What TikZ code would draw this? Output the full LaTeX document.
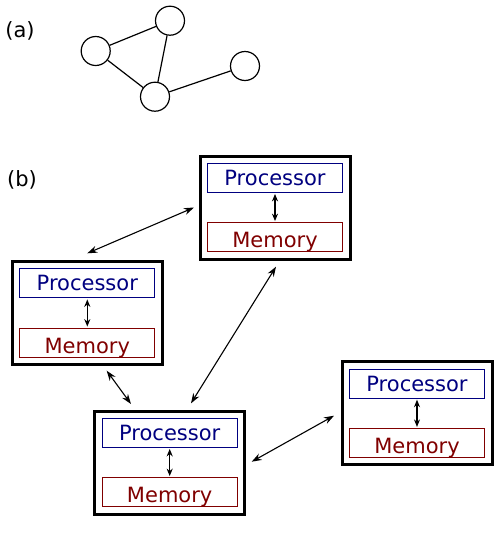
\documentclass[tikz,border=0pt]{standalone}
\usepackage{fontspec}
\setmainfont{DejaVu Sans}
\usetikzlibrary{arrows.meta}
\definecolor{procblue}{RGB}{0,0,128}
\definecolor{memred}{RGB}{128,0,0}
\begin{document}
\begin{tikzpicture}[x=1pt,y=-1pt,
  font=\fontsize{21}{25}\selectfont,
  vertex/.style={circle,draw,line width=1.2pt,minimum size=29pt,inner sep=0pt},
  edge/.style={line width=1.2pt},
  outerbox/.style={draw,line width=3pt,minimum width=150pt,minimum height=103pt,inner sep=0pt},
  procbox/.style={draw=procblue,text=procblue,line width=1.2pt,minimum width=135pt,minimum height=29pt,inner sep=0pt},
  membox/.style={draw=memred,text=memred,line width=1.2pt,minimum width=135pt,minimum height=29pt,inner sep=0pt,text height=15.3pt,text depth=0pt},
  link/.style={line width=1.1pt,{Stealth[length=10pt,width=7pt]}-{Stealth[length=10pt,width=7pt]}},
  innerlink/.style={line width=1.1pt,{Stealth[length=7.5pt,width=6pt]}-{Stealth[length=7.5pt,width=6pt]}},
  lbl/.style={inner sep=0pt}
]
\useasboundingbox (0,0) rectangle (498,560);
\fill[white] (0,0) rectangle (498,560);

% (a)
\node[lbl] (la) at (20,31) {(a)};
\node[vertex] (v1) at (95.7,51) {};
\node[vertex] (v2) at (170,20.7) {};
\node[vertex] (v3) at (155,96.7) {};
\node[vertex] (v4) at (245,66) {};
\draw[edge] (v1) -- (v2);
\draw[edge] (v1) -- (v3);
\draw[edge] (v2) -- (v3);
\draw[edge] (v3) -- (v4);

% (b)
\node[lbl] (lb) at (22,180) {(b)};

\foreach \n/\x/\y in {A/275/207.5, B/87.3/313, C/169.7/462.5, D/417/413.3}{
  \node[outerbox] (\n) at (\x,\y) {};
  \node[procbox] (\n p) at ([yshift=29.7pt]\n.center) {Processor};
  \node[membox] (\n m) at ([yshift=-29.7pt]\n.center) {\raisebox{-2.8pt}{Memory}};
  \draw[innerlink] ([yshift=-1pt]\n p.south) -- ([yshift=1pt]\n m.north);
}

\draw[link] ([yshift=59.7pt]B.center) -- ([xshift=-81pt]A.center);
\draw[link] ([xshift=1pt,yshift=-59.2pt]A.center) -- ([xshift=21.3pt,yshift=59.2pt]C.center);
\draw[link] ([xshift=19.4pt,yshift=-57.7pt]B.center) -- ([xshift=-38.7pt,yshift=58.5pt]C.center);
\draw[link] ([xshift=82pt,yshift=0.8pt]C.center) -- ([xshift=-83pt,yshift=-2.4pt]D.center);
\end{tikzpicture}
\end{document}
